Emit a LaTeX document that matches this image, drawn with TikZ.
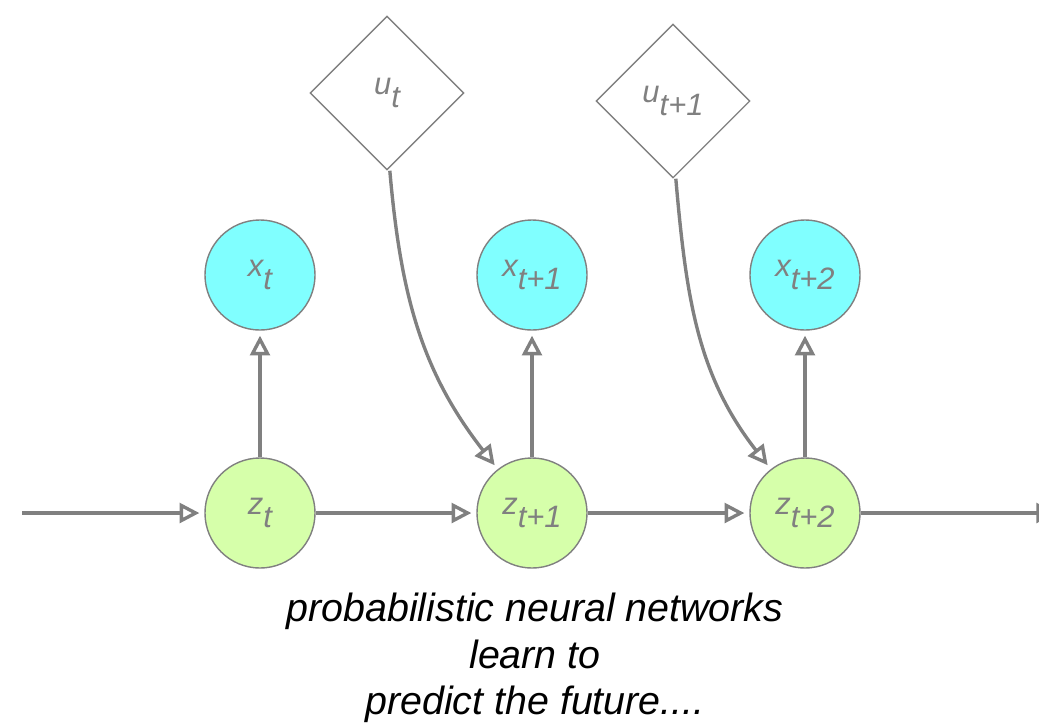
\documentclass[tikz,border=0pt]{standalone}
\usepackage{fontspec}
\setmainfont{Liberation Sans}
\usepackage{tikz}
\usetikzlibrary{arrows.meta,positioning,shapes.geometric}
\definecolor{edgegray}{RGB}{128,128,128}
\definecolor{latentgreen}{RGB}{214,255,170}
\definecolor{obscyan}{RGB}{128,255,255}
\newcommand{\nodelabel}[2]{\itshape #1\raisebox{-0.42em}{#2}}
\tikzset{%
	latent/.style   = {draw=edgegray, line width=1pt, circle, fill=latentgreen, minimum size=2.75cm, inner sep=0pt, text=edgegray, font=\fontsize{22}{22}\selectfont},
	observed/.style = {draw=edgegray, line width=1pt, circle, fill=obscyan, minimum size=2.75cm, inner sep=0pt, text=edgegray, font=\fontsize{22}{22}\selectfont},
	action/.style   = {draw=edgegray, line width=1pt, diamond, aspect=1, minimum size=3.85cm, inner sep=0pt, text=edgegray, font=\fontsize{22}{22}\selectfont},
	arrow/.style    = {draw=edgegray, line width=2.4pt, -{Triangle[open,length=14pt,width=14pt]}, shorten >=3.5pt},
}
\begin{document}
\begin{tikzpicture}[x=0.025cm,y=-0.025cm]
	\useasboundingbox (0,0) rectangle (1039,726);
	\clip (0,0) rectangle (1039,726);
	% latent chain
	\node[latent] (zt)  at (260,513) {\nodelabel{z}{t}};
	\node[latent] (zt1) at (532,513) {\nodelabel{z}{t+1}};
	\node[latent] (zt2) at (805,513) {\nodelabel{z}{t+2}};
	% observations
	\node[observed] (xt)  at (260,275) {\nodelabel{x}{t}};
	\node[observed] (xt1) at (532,275) {\nodelabel{x}{t+1}};
	\node[observed] (xt2) at (805,275) {\nodelabel{x}{t+2}};
	% actions
	\node[action] (ut)  at (387,93)  {\nodelabel{u}{t}};
	\node[action] (ut1) at (673,101) {\nodelabel{u}{t+1}};
	\coordinate (start) at (22,513);
	\coordinate (stop) at (1061,513);
	\draw[arrow] (start) -- (zt);
	\draw[arrow] (zt) -- (zt1);
	\draw[arrow] (zt1) -- (zt2);
	\draw[arrow] (zt2) -- (stop);
	\draw[arrow] (zt) -- (xt);
	\draw[arrow] (zt1) -- (xt1);
	\draw[arrow] (zt2) -- (xt2);
	\draw[arrow] ([xshift=2]ut.south) to[out=-85,in=128] (zt1);
	\draw[arrow] ([xshift=2]ut1.south) to[out=-85,in=128] (zt2);
	\node[align=center, font=\fontsize{28}{33}\selectfont\itshape] (caption) at (535,658)
		{probabilistic neural networks\\learn to\\predict the future....};
\end{tikzpicture}
\end{document}
